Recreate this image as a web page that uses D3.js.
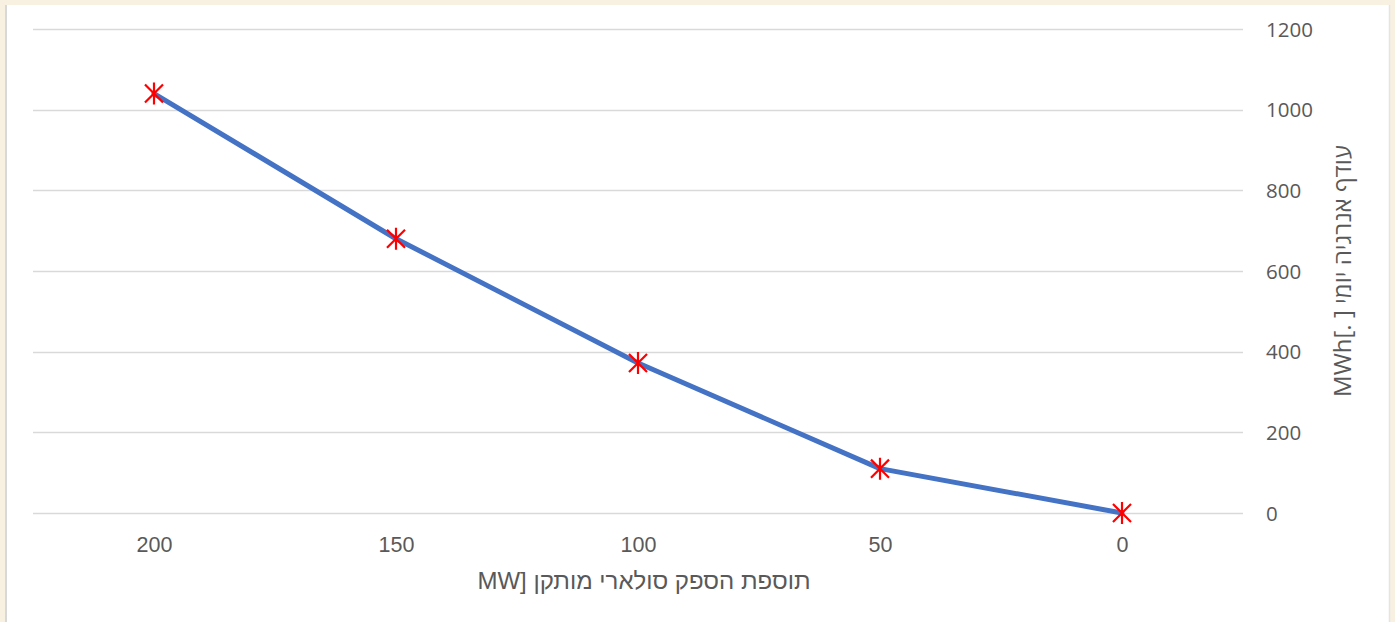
<!DOCTYPE html>
<html>
<head>
<meta charset="utf-8">
<script src="https://cdn.jsdelivr.net/npm/d3@7"></script>
<style>
  html, body { margin: 0; padding: 0; background: #f8f1e2; }
  svg { display: block; }
</style>
</head>
<body>
<svg id="chart" width="1395" height="622"></svg>
<script>
// Installed solar capacity added [MW], drawn right-to-left
const categories = ["200", "150", "100", "50", "0"];
// Daily energy surplus [MWh]
const surplus = [1040, 680, 372, 110, 0];
const yTicks = [0, 200, 400, 600, 800, 1000, 1200];

const xTitle = "תוספת הספק סולארי מותקן [MW";
const yTitle = "עודף אנרגיה יומי [ .]MWh";

const W = 1395, H = 622;
const plot = { left: 33, right: 1243, top: 29, bottom: 513 };

const svg = d3.select("#chart");

// page panel
svg.append("rect").attr("x", 0).attr("y", 0).attr("width", W).attr("height", H).attr("fill", "#f8f1e2");
svg.append("rect").attr("x", 6).attr("y", 5).attr("width", 1384).attr("height", H - 5).attr("fill", "#ffffff");
svg.append("line").attr("x1", 6).attr("x2", 6).attr("y1", 5).attr("y2", H).attr("stroke", "#d8d8d8").attr("stroke-width", 2);
svg.append("line").attr("x1", 1389.5).attr("x2", 1389.5).attr("y1", 5).attr("y2", H).attr("stroke", "#e4e4e4").attr("stroke-width", 1.5);

const x = d3.scalePoint().domain(categories).range([plot.left, plot.right]).padding(0.5);
const y = d3.scaleLinear().domain([0, 1200]).range([plot.bottom, plot.top]);

// horizontal gridlines
svg.append("g").selectAll("line").data(yTicks).join("line")
  .attr("x1", plot.left).attr("x2", plot.right)
  .attr("y1", d => Math.round(y(d)) + 0.5).attr("y2", d => Math.round(y(d)) + 0.5)
  .attr("stroke", "#d9d9d9").attr("stroke-width", 1.5);

// value axis on the right
const yAxis = svg.append("g")
  .attr("transform", `translate(${plot.right + 23},0)`)
  .call(d3.axisRight(y).tickValues(yTicks).tickFormat(d3.format("d")).tickSize(0).tickPadding(0));
yAxis.select(".domain").remove();
yAxis.selectAll("text")
  .attr("fill", "#595959")
  .style("font-family", "'Open Sans', 'Noto Sans', sans-serif")
  .style("font-size", "20.5px")
  .attr("dy", "0.35em");

// category axis
const xAxis = svg.append("g")
  .attr("transform", `translate(0,${plot.bottom})`)
  .call(d3.axisBottom(x).tickSize(0).tickPadding(0));
xAxis.select(".domain").remove();
xAxis.selectAll("text")
  .attr("fill", "#595959")
  .attr("y", 39)
  .attr("dy", 0)
  .style("font-family", "'Liberation Sans', Arial, sans-serif")
  .style("font-size", "21.5px");

// axis titles
svg.append("text")
  .attr("x", (plot.left + plot.right) / 2 + 6)
  .attr("y", 589)
  .attr("text-anchor", "middle")
  .attr("direction", "rtl")
  .attr("fill", "#595959")
  .style("font-family", "'Liberation Sans', Arial, sans-serif")
  .style("font-size", "24px")
  .text(xTitle);

svg.append("text")
  .attr("transform", `translate(1351,${(plot.top + plot.bottom) / 2}) rotate(-90)`)
  .attr("text-anchor", "middle")
  .attr("direction", "rtl")
  .attr("fill", "#595959")
  .style("font-family", "'Open Sans', 'Noto Sans', sans-serif")
  .style("font-size", "24px")
  .text(yTitle);

// series line
const pts = categories.map((c, i) => ({ c, v: surplus[i] }));
svg.append("path")
  .datum(pts)
  .attr("fill", "none")
  .attr("stroke", "#4472c4")
  .attr("stroke-width", 5)
  .attr("stroke-linejoin", "round")
  .attr("stroke-linecap", "round")
  .attr("d", d3.line().x(d => x(d.c)).y(d => y(d.v)));

// star markers
const r = 11;
const markers = svg.append("g").selectAll("g").data(pts).join("g")
  .attr("transform", d => `translate(${x(d.c)},${y(d.v)})`);
markers.append("path")
  .attr("d", `M${-r * 0.82},${-r * 0.82}L${r * 0.82},${r * 0.82}M${r * 0.82},${-r * 0.82}L${-r * 0.82},${r * 0.82}M0,${-r}L0,${r}`)
  .attr("stroke", "#ff0000")
  .attr("stroke-width", 2.2)
  .attr("fill", "none");
</script>
</body>
</html>
